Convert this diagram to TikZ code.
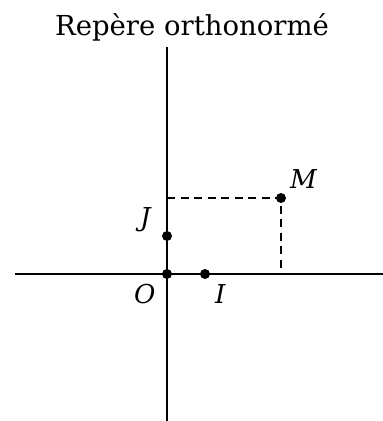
\documentclass[tikz,border=0pt]{standalone}
\usepackage{fontspec}
\setmainfont{DejaVu Serif}
\begin{document}
\begin{tikzpicture}[x=1pt,y=-1pt,
  axis/.style={line width=2.8pt},
  guide/.style={line width=2.3pt, dash pattern=on 8pt off 5.5pt},
  pt/.style={circle, fill=black, inner sep=0pt, minimum size=10pt},
  lab/.style={inner sep=0pt, anchor=base west, font=\fontsize{26}{30}\selectfont\itshape}]
\useasboundingbox (0,0) rectangle (383,421);
\node[inner sep=0pt, anchor=base, font=\fontsize{27.5}{30}\selectfont] (title) at (192,35.5) {Repère orthonormé};
\coordinate (xl) at (15,274);
\coordinate (xr) at (383,274);
\coordinate (yt) at (167,47);
\coordinate (yb) at (167,421);
\draw[axis] (xl) -- (xr);
\draw[axis] (yt) -- (yb);
\node[pt] (O) at (167,274) {};
\node[pt] (I) at (205,274) {};
\node[pt] (J) at (167,236) {};
\node[pt] (M) at (281,198) {};
\coordinate (Mx) at (281,274);
\coordinate (My) at (167,198);
\draw[guide] (My) -- (M.center) -- (Mx);
\node[lab] (lM) at (290,188) {M};
\node[lab] (lJ) at (140,226) {J};
\node[lab] (lO) at (134,303) {O};
\node[lab] (lI) at (215,303) {I};
\end{tikzpicture}
\end{document}
